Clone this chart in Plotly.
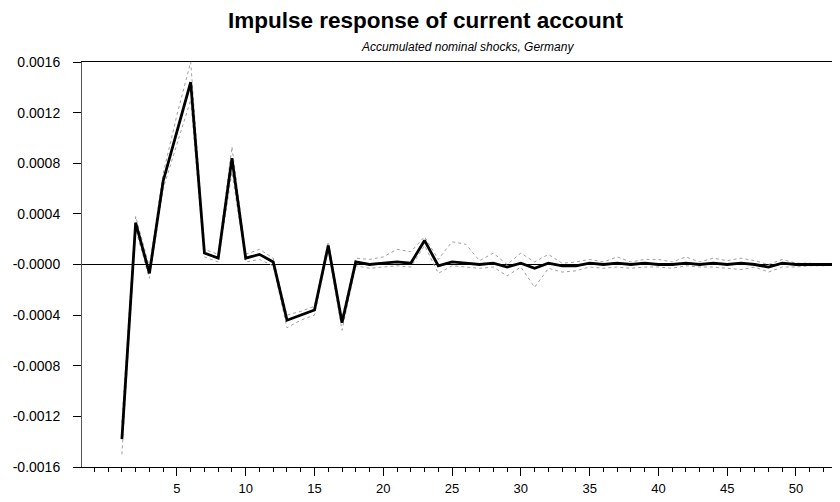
import plotly.graph_objects as go

periods = list(range(1, 54))

response = [-0.00138, 0.00033, -0.00007, 0.00066, 0.00105, 0.00144, 0.00009, 0.00005,
            0.00084, 0.00005, 0.00008, 0.00002, -0.00044, -0.00040, -0.00036, 0.00015,
            -0.00046, 0.00002, 0.00000, 0.00001, 0.00002, 0.00001, 0.00019, -0.00001,
            0.00002, 0.00001, 0.00000, 0.00001, -0.00002, 0.00001, -0.00003, 0.00001,
            -0.00001, -0.00001, 0.00001, 0.00000, 0.00001, 0.00000, 0.00001, 0.00000,
            0.00000, 0.00001, 0.00000, 0.00001, 0.00000, 0.00001, 0.00000, -0.00002,
            0.00001, 0.00000, 0.00000, 0.00000, 0.00000]

upper = [-0.00125, 0.00038, -0.00002, 0.00072, 0.00118, 0.00160, 0.00012, 0.00008,
         0.00093, 0.00008, 0.00012, 0.00005, -0.00040, -0.00037, -0.00033, 0.00018,
         -0.00042, 0.00005, 0.00004, 0.00006, 0.00012, 0.00010, 0.00022, 0.00004,
         0.00018, 0.00016, 0.00003, 0.00009, 0.00000, 0.00009, 0.00002, 0.00008,
         0.00001, 0.00002, 0.00004, 0.00002, 0.00006, 0.00002, 0.00004, 0.00004,
         0.00002, 0.00006, 0.00002, 0.00005, 0.00003, 0.00005, 0.00003, 0.00000,
         0.00004, 0.00001, 0.00001, 0.00000, 0.00000]

lower = [-0.00150, 0.00028, -0.00011, 0.00060, 0.00095, 0.00130, 0.00006, 0.00002,
         0.00073, 0.00002, 0.00004, -0.00001, -0.00050, -0.00044, -0.00040, 0.00012,
         -0.00052, -0.00001, -0.00003, -0.00002, -0.00001, -0.00002, 0.00015, -0.00007,
         -0.00001, -0.00002, -0.00003, -0.00002, -0.00009, -0.00002, -0.00018, -0.00003,
         -0.00006, -0.00005, -0.00002, -0.00003, -0.00002, -0.00003, -0.00002, -0.00002,
         -0.00003, -0.00001, -0.00002, -0.00002, -0.00003, -0.00004, -0.00002, -0.00006,
         -0.00002, -0.00002, -0.00001, -0.00001, 0.00000]

x_ticks = [5, 10, 15, 20, 25, 30, 35, 40, 45, 50]
y_ticks = [0.0016, 0.0012, 0.0008, 0.0004, 0.0, -0.0004, -0.0008, -0.0012, -0.0016]
y_ticklabels = ["0.0016", "0.0012", "0.0008", "0.0004", "-0.0000",
                "-0.0004", "-0.0008", "-0.0012", "-0.0016"]

title_text = "Impulse response of current account"
subtitle_text = "Accumulated nominal shocks, Germany"

FONT = "Liberation Sans, Arial, sans-serif"

# page offset (body margin) compensation
OFF = 8
W, H = 840 - OFF, 502 - OFF
L, T, B, R = 82 - OFF, 62 - OFF, 502 - 467, 0

fig = go.Figure()
fig.add_trace(go.Scatter(x=periods, y=upper, mode="lines",
                         line=dict(color="#a0a0a0", width=1, dash="dot"),
                         showlegend=False, hoverinfo="skip"))
fig.add_trace(go.Scatter(x=periods, y=lower, mode="lines",
                         line=dict(color="#a0a0a0", width=1, dash="dot"),
                         showlegend=False, hoverinfo="skip"))
fig.add_trace(go.Scatter(x=periods, y=response, mode="lines",
                         line=dict(color="#000000", width=2.8),
                         showlegend=False))

def px_to_paper_x(px):
    return (px - OFF - L) / (W - L - R)

def px_to_paper_y(py):
    # py measured from top of the 840x502 screenshot
    return ((H - (py - OFF)) - B) / (H - T - B)

fig.update_layout(
    width=W, height=H,
    margin=dict(l=L, r=R, t=T, b=B),
    paper_bgcolor="white", plot_bgcolor="white",
    font=dict(family=FONT, color="#000000", size=12),
    annotations=[
        dict(text="<b>" + title_text + "</b>", x=px_to_paper_x(426), y=px_to_paper_y(20),
             xref="paper", yref="paper", showarrow=False,
             font=dict(size=22.5, family=FONT), xanchor="center", yanchor="middle"),
        dict(text="<i>" + subtitle_text + "</i>", x=px_to_paper_x(467), y=px_to_paper_y(47),
             xref="paper", yref="paper", showarrow=False,
             font=dict(size=12, family=FONT), xanchor="center", yanchor="middle"),
    ],
)

fig.update_xaxes(
    range=[-1.9, 53.2], showgrid=False, zeroline=False,
    showline=True, linecolor="#000000", linewidth=1, mirror=True,
    tickmode="array", tickvals=x_ticks, ticktext=[str(v) for v in x_ticks],
    ticks="outside", ticklen=8, tickcolor="#000000",
    minor=dict(dtick=1, tick0=0, ticks="outside", ticklen=4, tickcolor="#000000"),
    tickfont=dict(size=13, family=FONT), ticklabelstandoff=1,
)
fig.update_yaxes(
    range=[-0.0016, 0.0016], showgrid=False,
    zeroline=True, zerolinecolor="#000000", zerolinewidth=1,
    showline=True, linecolor="#555555", linewidth=1,
    tickmode="array", tickvals=y_ticks, ticktext=y_ticklabels,
    ticks="outside", ticklen=8, tickcolor="#000000",
    tickfont=dict(size=14, family=FONT), ticklabelstandoff=10,
)

fig.write_html("out.html")
